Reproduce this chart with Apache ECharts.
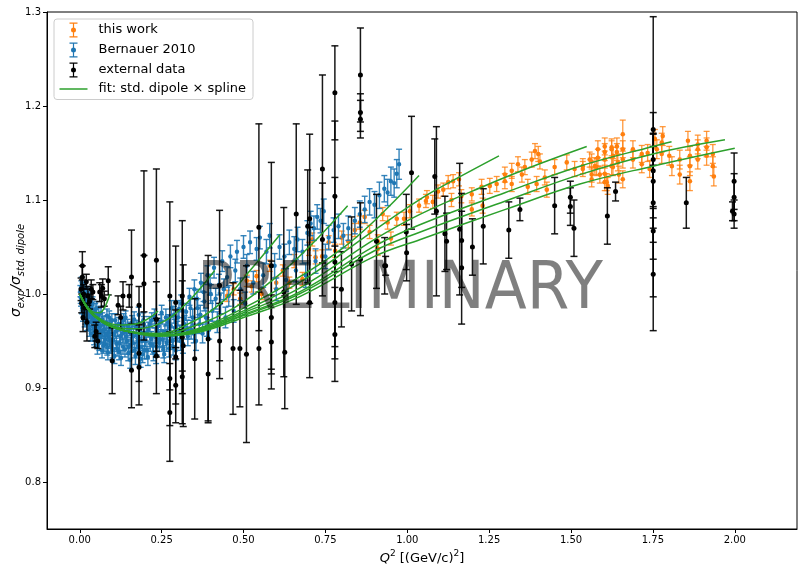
<!DOCTYPE html>
<html>
<head>
<meta charset="utf-8">
<script src="https://cdn.jsdelivr.net/npm/echarts@6/dist/echarts.min.js"></script>
<style>
  html, body { margin: 0; padding: 0; background: #fff; }
  #chartArea { width: 798px; height: 564px; }
</style>
</head>
<body>
<div id="chartArea"></div>
<script>
// tick positions
var xTicks = [0, 0.25, 0.5, 0.75, 1.0, 1.25, 1.5, 1.75, 2.0];
var yTicks = [0.8, 0.9, 1.0, 1.1, 1.2, 1.3];

// [Q2, ratio, error]
var thisWork = [
  [0.450,0.998,0.006],[0.470,1.005,0.006],[0.490,0.995,0.006],[0.510,1.014,0.006],[0.525,1.008,0.006],
  [0.540,1.019,0.006],[0.555,1.000,0.006],[0.580,1.030,0.006],[0.600,1.012,0.006],[0.620,1.025,0.006],
  [0.640,1.012,0.006],[0.655,1.035,0.007],[0.680,1.016,0.007],[0.700,1.048,0.007],[0.710,1.058,0.007],
  [0.720,1.039,0.007],[0.740,1.040,0.007],[0.760,1.055,0.007],[0.780,1.046,0.007],[0.800,1.060,0.007],
  [0.820,1.056,0.007],[0.840,1.068,0.007],[0.855,1.076,0.007],[0.870,1.082,0.007],[0.885,1.066,0.007],
  [0.910,1.056,0.007],[0.910,1.048,0.007],[0.925,1.085,0.007],[0.940,1.076,0.007],[0.950,1.059,0.007],
  [0.968,1.080,0.007],[0.990,1.080,0.007],[1.008,1.088,0.007],[1.036,1.094,0.007],[1.057,1.099,0.007],
  [1.060,1.103,0.007],[1.078,1.098,0.007],[1.094,1.109,0.007],[1.110,1.111,0.007],[1.125,1.119,0.007],
  [1.135,1.100,0.007],[1.140,1.120,0.007],[1.158,1.122,0.007],[1.165,1.104,0.007],[1.197,1.106,0.007],
  [1.197,1.090,0.007],[1.227,1.114,0.008],[1.230,1.094,0.008],[1.252,1.115,0.008],[1.273,1.117,0.008],
  [1.298,1.127,0.008],[1.298,1.120,0.008],[1.319,1.131,0.008],[1.319,1.117,0.008],[1.338,1.138,0.008],
  [1.350,1.127,0.008],[1.359,1.135,0.008],[1.368,1.114,0.008],[1.380,1.143,0.008],[1.390,1.152,0.008],
  [1.400,1.149,0.008],[1.405,1.141,0.008],[1.395,1.117,0.008],[1.420,1.124,0.008],[1.426,1.111,0.008],
  [1.450,1.135,0.008],[1.487,1.140,0.008],[1.511,1.133,0.008],[1.536,1.133,0.008],[1.536,1.136,0.008],
  [1.557,1.143,0.008],[1.563,1.141,0.008],[1.563,1.127,0.008],[1.563,1.122,0.008],[1.573,1.136,0.009],
  [1.578,1.135,0.009],[1.582,1.145,0.009],[1.582,1.154,0.009],[1.588,1.127,0.009],[1.603,1.151,0.009],
  [1.603,1.157,0.009],[1.603,1.143,0.009],[1.603,1.128,0.009],[1.603,1.119,0.009],[1.609,1.119,0.009],
  [1.612,1.115,0.009],[1.624,1.156,0.009],[1.624,1.154,0.009],[1.624,1.136,0.009],[1.628,1.135,0.009],
  [1.628,1.147,0.009],[1.640,1.151,0.009],[1.640,1.157,0.009],[1.643,1.140,0.009],[1.646,1.127,0.009],
  [1.658,1.170,0.015],[1.658,1.154,0.009],[1.658,1.143,0.009],[1.658,1.122,0.009],[1.689,1.154,0.009],
  [1.689,1.143,0.009],[1.716,1.149,0.009],[1.716,1.138,0.009],[1.734,1.150,0.009],[1.740,1.133,0.009],
  [1.756,1.165,0.010],[1.762,1.154,0.010],[1.777,1.161,0.010],[1.777,1.149,0.010],[1.780,1.168,0.010],
  [1.800,1.147,0.010],[1.808,1.136,0.010],[1.832,1.143,0.010],[1.832,1.127,0.010],[1.857,1.163,0.010],
  [1.863,1.147,0.010],[1.863,1.136,0.010],[1.863,1.120,0.010],[1.887,1.159,0.010],[1.887,1.154,0.010],
  [1.887,1.143,0.010],[1.914,1.163,0.010],[1.914,1.156,0.010],[1.914,1.147,0.010],[1.933,1.149,0.010],
  [1.933,1.136,0.010],[1.936,1.125,0.010]
];

var bernauer2010 = [
  [0.002,1.003,0.006],[0.004,0.992,0.005],[0.005,1.008,0.006],[0.007,0.985,0.006],[0.008,0.998,0.005],
  [0.010,0.978,0.007],[0.011,1.004,0.006],[0.013,0.990,0.005],[0.015,0.972,0.007],[0.016,0.995,0.006],
  [0.018,0.983,0.006],[0.020,1.000,0.006],[0.022,0.968,0.007],[0.024,0.986,0.006],[0.026,0.976,0.006],
  [0.028,0.992,0.007],[0.030,0.962,0.007],[0.033,0.980,0.006],[0.035,0.971,0.006],[0.037,0.988,0.007],
  [0.040,0.958,0.008],[0.042,0.975,0.006],[0.045,0.966,0.007],[0.047,0.983,0.007],[0.050,0.952,0.008],
  [0.053,0.970,0.006],[0.055,0.960,0.007],[0.058,0.978,0.007],[0.060,0.948,0.008],[0.063,0.966,0.007],
  [0.066,0.956,0.007],[0.069,0.973,0.007],[0.072,0.945,0.008],[0.075,0.962,0.007],[0.078,0.952,0.007],
  [0.081,0.970,0.007],[0.084,0.943,0.008],[0.087,0.959,0.007],[0.090,0.975,0.007],[0.093,0.950,0.008],
  [0.096,0.965,0.007],[0.100,0.940,0.008],[0.104,0.957,0.007],[0.108,0.972,0.007],[0.112,0.947,0.008],
  [0.116,0.962,0.007],[0.120,0.938,0.008],[0.124,0.955,0.007],[0.128,0.968,0.007],[0.132,0.944,0.008],
  [0.136,0.960,0.007],[0.140,0.975,0.007],[0.144,0.950,0.008],[0.148,0.937,0.008],[0.152,0.963,0.007],
  [0.156,0.946,0.008],[0.160,0.970,0.007],[0.164,0.955,0.008],[0.168,0.940,0.008],[0.172,0.965,0.007],
  [0.176,0.950,0.008],[0.180,0.978,0.008],[0.184,0.943,0.008],[0.188,0.958,0.007],[0.192,0.936,0.009],
  [0.196,0.968,0.008],[0.200,0.952,0.008],[0.205,0.940,0.009],[0.210,0.962,0.008],[0.215,0.947,0.008],
  [0.220,0.972,0.008],[0.225,0.938,0.009],[0.230,0.956,0.008],[0.235,0.944,0.009],[0.240,0.966,0.008],
  [0.245,0.952,0.008],[0.250,0.980,0.008],[0.255,0.941,0.009],[0.260,0.960,0.008],[0.265,0.948,0.009],
  [0.270,0.970,0.008],[0.275,0.955,0.009],[0.280,0.985,0.008],[0.285,0.944,0.009],[0.290,0.964,0.009],
  [0.295,0.952,0.009],[0.300,0.975,0.009],[0.305,0.958,0.009],[0.310,0.990,0.009],[0.315,0.947,0.010],
  [0.320,0.968,0.009],[0.325,0.981,0.009],[0.330,0.955,0.010],[0.335,0.997,0.009],[0.340,0.962,0.010],
  [0.345,0.975,0.009],[0.350,1.005,0.010],[0.355,0.950,0.010],[0.360,0.985,0.010],[0.365,0.968,0.010],
  [0.370,1.012,0.010],[0.375,0.958,0.010],[0.380,0.992,0.010],[0.385,0.975,0.010],[0.390,1.020,0.010],
  [0.395,0.962,0.010],[0.400,1.000,0.010],[0.405,0.982,0.011],[0.410,1.028,0.011],[0.420,0.970,0.011],
  [0.425,1.010,0.011],[0.430,0.990,0.011],[0.435,1.035,0.011],[0.445,0.975,0.011],[0.450,1.018,0.011],
  [0.455,0.998,0.011],[0.460,1.040,0.012],[0.470,0.982,0.012],[0.475,1.025,0.012],[0.480,1.045,0.012],
  [0.490,1.005,0.012],[0.500,1.050,0.012],[0.505,0.990,0.012],[0.510,1.030,0.012],[0.520,1.055,0.012],
  [0.530,1.012,0.012],[0.540,1.048,0.012],[0.550,1.060,0.012],[0.560,1.020,0.013],[0.570,1.045,0.013],
  [0.580,1.062,0.013],[0.595,1.030,0.013],[0.600,1.005,0.012],[0.610,1.050,0.013],[0.625,1.040,0.013],
  [0.630,1.015,0.012],[0.640,1.055,0.013],[0.655,1.048,0.013],[0.660,1.025,0.012],[0.665,1.058,0.013],
  [0.680,1.045,0.013],[0.690,1.020,0.013],[0.695,1.065,0.013],[0.705,1.075,0.013],[0.715,1.070,0.013],
  [0.720,1.035,0.013],[0.725,1.082,0.013],[0.735,1.078,0.013],[0.745,1.088,0.013],[0.750,1.040,0.013],
  [0.760,1.060,0.013],[0.775,1.068,0.013],[0.790,1.072,0.013],[0.805,1.062,0.013],[0.820,1.070,0.013],
  [0.840,1.078,0.014],[0.855,1.085,0.014],[0.870,1.090,0.014],[0.885,1.098,0.014],[0.900,1.095,0.014],
  [0.915,1.105,0.014],[0.930,1.112,0.014],[0.940,1.108,0.014],[0.950,1.120,0.015],[0.960,1.118,0.015],
  [0.968,1.128,0.015],[0.975,1.138,0.016],
  [0.003,0.996,0.006],[0.006,1.012,0.006],[0.009,0.988,0.006],[0.012,0.981,0.006],[0.014,1.006,0.006],
  [0.017,0.975,0.007],[0.019,0.993,0.006],[0.021,0.980,0.006],[0.023,1.002,0.006],[0.027,0.969,0.007],
  [0.029,0.984,0.006],[0.032,0.996,0.006],[0.034,0.958,0.008],[0.036,0.978,0.006],[0.039,0.990,0.007],
  [0.041,0.965,0.007],[0.044,0.954,0.008],[0.046,0.978,0.007],[0.049,0.968,0.007],[0.052,0.985,0.007],
  [0.054,0.944,0.008],[0.057,0.962,0.007],[0.059,0.972,0.007],[0.062,0.955,0.007],[0.065,0.980,0.007],
  [0.068,0.940,0.008],[0.071,0.960,0.007],[0.074,0.969,0.007],[0.077,0.947,0.008],[0.080,0.957,0.007],
  [0.083,0.977,0.007],[0.086,0.938,0.008],[0.089,0.954,0.007],[0.092,0.963,0.007],[0.095,0.945,0.008],
  [0.098,0.972,0.007],[0.102,0.951,0.008],[0.106,0.934,0.008],[0.110,0.960,0.007],[0.114,0.942,0.008],
  [0.118,0.968,0.007],[0.122,0.948,0.008],[0.126,0.932,0.008],[0.130,0.958,0.007],[0.134,0.972,0.007],
  [0.138,0.941,0.008],[0.142,0.955,0.008],[0.146,0.966,0.007],[0.150,0.944,0.008],[0.154,0.930,0.009],
  [0.158,0.958,0.008],[0.162,0.948,0.008],[0.166,0.973,0.008],[0.170,0.934,0.009],[0.174,0.956,0.008],
  [0.178,0.945,0.008],[0.182,0.962,0.008],[0.186,0.931,0.009],[0.190,0.950,0.008],[0.194,0.972,0.008],
  [0.198,0.940,0.009],[0.203,0.958,0.008],[0.208,0.933,0.009],[0.213,0.968,0.008],[0.218,0.952,0.008],
  [0.223,0.945,0.009],[0.228,0.976,0.008],[0.233,0.935,0.009],[0.238,0.958,0.008],[0.243,0.948,0.009],
  [0.248,0.970,0.008],[0.253,0.952,0.009],[0.258,0.936,0.009],[0.263,0.975,0.009],[0.268,0.958,0.009],
  [0.273,0.942,0.009],[0.278,0.966,0.009],[0.283,0.950,0.009],[0.288,0.978,0.009],[0.293,0.940,0.010],
  [0.298,0.962,0.009],[0.303,0.984,0.009],[0.308,0.950,0.010],[0.318,0.974,0.009],[0.328,0.962,0.010],
  [0.338,0.985,0.010],[0.348,0.958,0.010],[0.358,0.995,0.010],[0.368,0.978,0.010],[0.378,1.002,0.010],
  [0.388,0.965,0.010],[0.398,1.010,0.011],[0.415,0.995,0.011],[0.440,1.005,0.011]
];

var externalData = [
  [0.004,1.005,0.012],[0.006,0.990,0.010],[0.008,1.030,0.015],[0.008,1.018,0.012],[0.010,0.975,0.015],
  [0.012,1.000,0.010],[0.015,0.985,0.012],[0.020,1.013,0.008],[0.022,0.970,0.020],[0.025,0.998,0.010],
  [0.030,0.992,0.008],[0.035,1.005,0.010],[0.040,1.002,0.008],[0.046,0.955,0.012],[0.050,0.960,0.010],
  [0.055,0.950,0.008],[0.061,1.002,0.010],[0.066,0.998,0.012],[0.070,1.006,0.010],[0.075,0.995,0.008],
  [0.087,1.014,0.015],[0.099,0.929,0.035],[0.117,0.988,0.010],[0.125,0.975,0.012],[0.132,0.998,0.015],
  [0.151,0.998,0.012],[0.158,1.018,0.050],[0.158,0.919,0.040],[0.181,0.988,0.020],[0.181,0.937,0.030],
  [0.181,0.922,0.040],[0.196,1.041,0.090],[0.196,1.011,0.030],[0.234,1.036,0.097],[0.234,0.973,0.040],
  [0.234,0.934,0.040],[0.275,0.998,0.100],[0.275,0.910,0.050],[0.275,0.874,0.052],[0.293,0.991,0.060],
  [0.293,0.933,0.050],[0.293,0.903,0.040],[0.313,0.998,0.080],[0.313,0.954,0.060],[0.313,0.912,0.050],
  [0.316,0.945,0.086],[0.351,0.931,0.064],[0.392,0.952,0.089],[0.392,0.915,0.050],[0.427,1.009,0.080],
  [0.427,0.950,0.040],[0.468,0.942,0.070],[0.489,0.942,0.062],[0.509,0.936,0.094],[0.547,1.071,0.110],
  [0.547,0.942,0.060],[0.585,1.030,0.110],[0.585,0.975,0.060],[0.585,0.949,0.050],[0.623,1.002,0.090],
  [0.626,0.938,0.060],[0.661,1.085,0.096],[0.696,1.072,0.060],[0.702,1.080,0.090],[0.702,0.991,0.080],
  [0.741,1.133,0.100],[0.741,1.058,0.060],[0.779,1.214,0.050],[0.779,1.104,0.080],[0.779,1.034,0.090],
  [0.779,0.991,0.060],[0.779,0.957,0.050],[0.799,1.005,0.040],[0.830,1.032,0.050],[0.857,1.233,0.050],
  [0.857,1.193,0.020],[0.857,1.186,0.020],[0.857,1.037,0.060],[0.906,1.056,0.050],[0.931,1.030,0.030],
  [0.934,1.030,0.010],[0.997,1.066,0.040],[0.998,1.044,0.030],[1.013,1.129,0.060],[1.084,1.125,0.040],
  [1.089,1.088,0.090],[1.115,1.064,0.040],[1.120,1.056,0.030],[1.160,1.069,0.070],[1.166,1.057,0.050],
  [1.166,1.028,0.060],[1.199,1.050,0.030],[1.232,1.072,0.040],[1.310,1.068,0.030],[1.344,1.090,0.012],
  [1.450,1.094,0.030],[1.498,1.103,0.017],[1.498,1.093,0.020],[1.509,1.070,0.030],[1.611,1.083,0.030],
  [1.636,1.109,0.010],[1.751,1.175,0.120],[1.751,1.143,0.050],[1.751,1.131,0.040],[1.751,1.120,0.050],
  [1.751,1.097,0.060],[1.751,1.067,0.070],[1.751,1.021,0.060],[1.852,1.097,0.027],[1.998,1.120,0.030],
  [1.998,1.103,0.025],[1.993,1.088,0.010],[1.998,1.085,0.015]
];

// fit curves, one per setting, [Q2, ratio]
var fitCurves = [
  [[0,1.0],[0.02,0.988],[0.04,0.981],[0.06,0.980],[0.075,0.985],[0.092,1.0]],
  [[0,1.0],[0.03,0.983],[0.07,0.972],[0.12,0.967],[0.17,0.968],[0.21,0.974],[0.239,0.982]],
  [[0,1.0],[0.03,0.982],[0.08,0.969],[0.15,0.963],[0.24,0.968],[0.32,0.988],[0.412,1.025]],
  [[0,1.0],[0.03,0.982],[0.08,0.968],[0.15,0.960],[0.24,0.958],[0.33,0.968],[0.43,0.990],[0.52,1.025],[0.611,1.063]],
  [[0,1.0],[0.03,0.982],[0.08,0.968],[0.15,0.960],[0.24,0.957],[0.35,0.966],[0.47,0.985],[0.6,1.018],[0.7,1.050],[0.818,1.094]],
  [[0,1.0],[0.03,0.982],[0.08,0.968],[0.15,0.960],[0.24,0.956],[0.36,0.963],[0.5,0.985],[0.67,1.018],[0.8,1.048],[0.9,1.078],[1.036,1.126]],
  [[0,1.0],[0.03,0.982],[0.08,0.968],[0.15,0.960],[0.24,0.956],[0.36,0.962],[0.5,0.982],[0.67,1.012],[0.9,1.068],[1.04,1.101],[1.13,1.119],[1.28,1.147]],
  [[0,1.0],[0.03,0.982],[0.08,0.968],[0.15,0.960],[0.24,0.956],[0.36,0.961],[0.5,0.980],[0.67,1.006],[0.9,1.058],[1.04,1.085],[1.25,1.117],[1.4,1.138],[1.548,1.157]],
  [[0,1.0],[0.03,0.982],[0.08,0.968],[0.15,0.960],[0.24,0.956],[0.36,0.960],[0.5,0.978],[0.67,1.002],[0.9,1.051],[1.04,1.074],[1.3,1.108],[1.527,1.136],[1.75,1.157],[1.807,1.162]],
  [[0,1.0],[0.03,0.982],[0.08,0.968],[0.15,0.960],[0.24,0.956],[0.36,0.960],[0.5,0.977],[0.67,1.000],[0.9,1.046],[1.04,1.066],[1.3,1.099],[1.527,1.127],[1.75,1.149],[1.97,1.164]],
  [[0,1.0],[0.03,0.982],[0.08,0.968],[0.15,0.960],[0.24,0.955],[0.36,0.959],[0.5,0.975],[0.67,0.997],[0.9,1.040],[1.04,1.058],[1.3,1.090],[1.527,1.117],[1.75,1.136],[2.0,1.155]]
];

var fitName = 'fit: std. dipole \u00d7 spline';

function errorBars(cap, radius, barOpacity, lineWidth) {
    return function (params, api) {
        var x = api.value(0), y = api.value(1), e = api.value(2);
        var hi = api.coord([x, y + e]);
        var lo = api.coord([x, y - e]);
        var c = api.coord([x, y]);
        var color = api.visual('color');
        var ls = { stroke: color, lineWidth: lineWidth, opacity: barOpacity };
        return {
            type: 'group',
            children: [
                { type: 'line', shape: { x1: c[0], y1: hi[1], x2: c[0], y2: lo[1] }, style: ls },
                { type: 'line', shape: { x1: c[0] - cap, y1: hi[1], x2: c[0] + cap, y2: hi[1] }, style: ls },
                { type: 'line', shape: { x1: c[0] - cap, y1: lo[1], x2: c[0] + cap, y2: lo[1] }, style: ls },
                { type: 'circle', shape: { cx: c[0], cy: c[1], r: radius }, style: { fill: color } }
            ]
        };
    };
}

var ebIcon = 'path://M0,0h8v1.2h-8z M3.4,0h1.2v15h-1.2z M0,13.8h8v1.2h-8z M1.5,7.5A2.5,2.5 0 1 1 6.5,7.5A2.5,2.5 0 1 1 1.5,7.5z';
var lineIcon = 'path://M0,0h28v1.5h-28z';

var chartDom = document.getElementById('chartArea');
var myChart = echarts.init(chartDom);

var series = [
    {
        name: 'this work', type: 'custom', data: thisWork, clip: true,
        itemStyle: { color: '#ff7f0e' },
        encode: { x: 0, y: 1 },
        renderItem: errorBars(3, 2.3, 0.8, 1.3)
    },
    {
        name: 'Bernauer 2010', type: 'custom', data: bernauer2010, clip: true,
        itemStyle: { color: '#1f77b4' },
        encode: { x: 0, y: 1 },
        renderItem: errorBars(3, 2.2, 0.9, 1.4)
    },
    {
        name: 'external data', type: 'custom', data: externalData, clip: true,
        itemStyle: { color: '#000000' },
        encode: { x: 0, y: 1 },
        renderItem: errorBars(3.5, 2.5, 0.9, 1.5)
    }
];
fitCurves.forEach(function (pts) {
    series.push({
        name: fitName, type: 'line', data: pts, smooth: 0.4,
        showSymbol: false, symbol: 'none', clip: true,
        lineStyle: { color: '#2ca02c', width: 1.5 },
        itemStyle: { color: '#2ca02c' },
        z: 5
    });
});

var option = {
    animation: false,
    textStyle: { fontFamily: 'DejaVu Sans' },
    grid: {
        left: 47, right: 1, top: 12, bottom: 35,
        outerBoundsMode: 'none', containLabel: false,
        show: true, borderColor: '#000', borderWidth: 1
    },
    legend: {
        orient: 'vertical', left: 54, top: 19,
        padding: [3.5, 7, 4, 5.5],
        itemWidth: 28, itemHeight: 15, itemGap: 5,
        selectedMode: false,
        borderColor: '#cccccc', borderWidth: 1, borderRadius: 3,
        backgroundColor: 'rgba(255,255,255,0.8)',
        textStyle: { fontSize: 13, color: '#000', fontFamily: 'DejaVu Sans', padding: [0, 0, 0, 6] },
        data: [
            { name: 'this work', icon: ebIcon, itemStyle: { color: '#ff7f0e' } },
            { name: 'Bernauer 2010', icon: ebIcon, itemStyle: { color: '#1f77b4' } },
            { name: 'external data', icon: ebIcon, itemStyle: { color: '#000000' } },
            { name: fitName, icon: lineIcon, itemStyle: { color: '#2ca02c' } }
        ]
    },
    xAxis: {
        type: 'value', min: -0.1, max: 2.19,
        splitLine: { show: false },
        axisLine: { onZero: false, lineStyle: { color: '#000', width: 1 } },
        axisTick: { show: true, length: 4, customValues: xTicks, lineStyle: { color: '#000' } },
        axisLabel: {
            customValues: xTicks, color: '#000', fontSize: 10, margin: 6,
            formatter: function (v) { return v.toFixed(2); }
        },
        name: '{i|Q}{sup|2} [(GeV/c){sup|2}]',
        nameLocation: 'middle', nameGap: 20, nameMoveOverlap: false,
        nameTextStyle: {
            rich: {
                i: { fontSize: 13, fontStyle: 'italic', color: '#000', lineHeight: 20, fontFamily: 'DejaVu Sans' },
                sup: { fontSize: 9, color: '#000', lineHeight: 10, verticalAlign: 'top', fontFamily: 'DejaVu Sans' }
            },
            fontSize: 13, color: '#000', lineHeight: 20
        }
    },
    yAxis: {
        type: 'value', min: 0.75, max: 1.3,
        splitLine: { show: false },
        axisLine: { onZero: false, lineStyle: { color: '#000', width: 1 } },
        axisTick: { show: true, length: 4, customValues: yTicks, lineStyle: { color: '#000' } },
        axisLabel: {
            customValues: yTicks, color: '#000', fontSize: 10, margin: 6,
            formatter: function (v) { return v.toFixed(1); }
        },
        name: '{s|\u03c3}{sub|exp}{s|/\u03c3}{sub|std. dipole}',
        nameLocation: 'middle', nameRotate: 90, nameGap: 21, nameMoveOverlap: false,
        nameTextStyle: {
            rich: {
                s: { fontSize: 14, fontStyle: 'italic', color: '#000', lineHeight: 20, fontFamily: 'DejaVu Sans' },
                sub: { fontSize: 10, fontStyle: 'italic', color: '#000', lineHeight: 10, verticalAlign: 'bottom', fontFamily: 'DejaVu Sans' }
            },
            color: '#000', lineHeight: 20
        }
    },
    graphic: [
        {
            type: 'text', x: 400, y: 291, scaleX: 0.93, z: 100, silent: true,
            style: {
                text: 'PRELIMINARY', x: 0, y: 0,
                align: 'center', verticalAlign: 'middle',
                textAlign: 'center', textVerticalAlign: 'middle',
                font: '66px "DejaVu Sans"', fill: 'rgba(0,0,0,0.5)'
            }
        }
    ],
    series: series
};

option && myChart.setOption(option);
</script>
</body>
</html>
